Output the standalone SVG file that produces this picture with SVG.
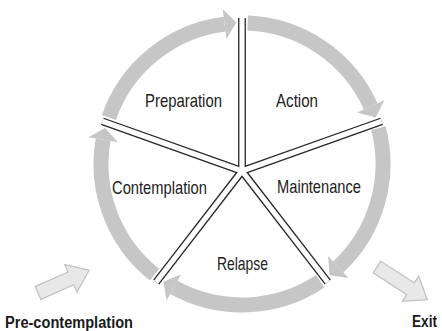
<svg xmlns="http://www.w3.org/2000/svg" width="442" height="331" viewBox="0 0 442 331">
<style>
.arc{fill:none;stroke:#c6c6c6;stroke-width:15;stroke-linecap:butt;marker-end:url(#ah)}
.sd{stroke:#262626;stroke-width:7.8;stroke-linecap:butt}
.sw{stroke:#ffffff;stroke-width:5.2;stroke-linecap:butt}
.lbl{font-family:"Liberation Sans",Arial,sans-serif;font-size:18.5px;fill:#222222}
.bold{font-family:"Liberation Sans",Arial,sans-serif;font-size:16px;font-weight:bold;fill:#1a1a1a}
.entry{fill:#e8e8e8;stroke:#c0c0c0;stroke-width:1.2;stroke-linejoin:miter}
</style>
<defs>
<marker id="ah" markerUnits="userSpaceOnUse" markerWidth="40" markerHeight="40" refX="0" refY="0" orient="auto" overflow="visible">
<path d="M0,-15 L12,0 L0,15 Z" fill="#c6c6c6"/>
</marker>
</defs>
<rect width="442" height="331" fill="#ffffff"/>
<g id="connectors">
<path class="arc" d="M108.92,117.40 A141,141 0 0 1 224.57,24.08"/>
<path class="arc" d="M247.66,23.11 A141,141 0 0 1 370.71,106.43"/>
<path class="arc" d="M378.39,128.22 A141,141 0 0 1 338.30,266.99"/>
<path class="arc" d="M320.23,281.30 A141,141 0 0 1 173.86,287.44"/>
<path class="arc" d="M154.63,274.67 A141,141 0 0 1 103.10,139.76"/>
</g>
<g id="spokes">
<line class="sd" x1="242" y1="171" x2="242" y2="18"/>
<line class="sd" x1="242" y1="171" x2="381.6" y2="121.3"/>
<line class="sd" x1="242" y1="171" x2="327.8" y2="282.1"/>
<line class="sd" x1="242" y1="171" x2="156.2" y2="282.1"/>
<line class="sd" x1="242" y1="171" x2="102.4" y2="121.3"/>
<line class="sw" x1="242" y1="171" x2="242" y2="18"/>
<line class="sw" x1="242" y1="171" x2="381.6" y2="121.3"/>
<line class="sw" x1="242" y1="171" x2="327.8" y2="282.1"/>
<line class="sw" x1="242" y1="171" x2="156.2" y2="282.1"/>
<line class="sw" x1="242" y1="171" x2="102.4" y2="121.3"/>
<circle cx="242" cy="171" r="3.5" fill="#ffffff"/>
</g>
<g id="preparation"><text class="lbl" x="145" y="106.5" textLength="77" lengthAdjust="spacingAndGlyphs">Preparation</text></g>
<g id="action"><text class="lbl" x="276" y="106.5" textLength="42" lengthAdjust="spacingAndGlyphs">Action</text></g>
<g id="contemplation"><text class="lbl" x="112" y="194" textLength="95" lengthAdjust="spacingAndGlyphs">Contemplation</text></g>
<g id="maintenance"><text class="lbl" x="277" y="193" textLength="84" lengthAdjust="spacingAndGlyphs">Maintenance</text></g>
<g id="relapse"><text class="lbl" x="217" y="270" textLength="51" lengthAdjust="spacingAndGlyphs">Relapse</text></g>
<g id="pre-contemplation">
<path class="entry" transform="translate(38,293) rotate(-24)" d="M0,-7 L36,-7 L36,-15 L56,0 L36,15 L36,7 L0,7 Z"/>
<text class="bold" x="5" y="328" textLength="128" lengthAdjust="spacingAndGlyphs">Pre-contemplation</text>
</g>
<g id="exit">
<path class="entry" transform="translate(377,267) rotate(33)" d="M0,-7 L40,-7 L40,-15 L60,0 L40,15 L40,7 L0,7 Z"/>
<text class="bold" x="412" y="327" textLength="25" lengthAdjust="spacingAndGlyphs">Exit</text>
</g>
</svg>
